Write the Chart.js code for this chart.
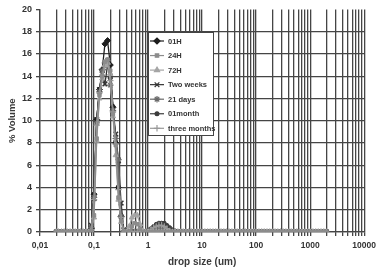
<!DOCTYPE html>
<html><head><meta charset="utf-8">
<script src="https://cdn.jsdelivr.net/npm/chart.js@4.4.1/dist/chart.umd.min.js"></script>
<style>html,body{margin:0;padding:0;background:#fff;overflow:hidden}canvas{display:block}</style>
</head><body>
<canvas id="c" width="381" height="267" style="width:381px;height:267px"></canvas>
<script>
// drop size bins (um)
const sizes = [0.020,0.022,0.025,0.028,0.032,0.036,0.040,0.045,0.050,0.056,
0.063,0.071,0.080,0.089,0.100,0.112,0.126,0.142,0.159,0.178,
0.200,0.224,0.252,0.283,0.317,0.356,0.399,0.448,0.502,0.564,
0.632,0.710,0.796,0.893,1.002,1.125,1.262,1.416,1.589,1.783,
2.000,2.244,2.518,2.825,3.170,3.557,3.991,4.477,5.024,5.637,
6.325,7.096,7.962,8.934,10.024,11.247,12.619,14.159,15.887,17.825,
20.000,22.440,25.179,28.251,31.698,35.566,39.905,44.774,50.238,56.368,
63.246,70.963,79.621,89.337,100.237,112.468,126.191,141.589,158.866,178.250,
200.000,224.404,251.785,282.508,316.979,355.656,399.052,447.744,502.377,563.677,
632.456,709.627,796.214,893.367,1002.374,1124.683,1261.915,1415.892,1588.656,1782.502,
2000.000];

const seriesNames = ['01H','24H','72H','Two weeks','21 days','01month','three months'];

const v01H = [0,0,0,0,0,0,0,0,0,0,0,0,0,
0.3,3.4,10.1,12.8,14.6,16.9,17.2,15.0,11.2,8.0,4.0,1.4,0,0,
0,0,0,0,0,0,0,0,0,0,0,0,0,0,0,0,0,0,0,0,
0,0,0,0,0,0,0,0,0,0,0,0,0,0,0,0,0,0,0,0,0,0,0,0,0,0,0,0,0,0,0,0,0,0,0,0,0,0,0,0,0,0,0,0,0,0,0,0,0,0,0,0,0,0];
const v24H = [0,0,0,0,0,0,0,0,0,0,0,0,0,
0.1,1.5,8.4,12.3,14.0,15.3,15.5,14.5,10.6,7.8,3.1,1.0,0,0,
0,0.5,0.8,0.7,0.3,0,0,0,0,0,0,0,0,0,0,0,0,0,0,0,
0,0,0,0,0,0,0,0,0,0,0,0,0,0,0,0,0,0,0,0,0,0,0,0,0,0,0,0,0,0,0,0,0,0,0,0,0,0,0,0,0,0,0,0,0,0,0,0,0,0,0,0,0,0];
const v72H = [0,0,0,0,0,0,0,0,0,0,0,0,0,
0.1,1.3,8.2,12.0,13.8,15.0,15.2,14.2,10.4,6.9,2.9,0.9,0,0,
0.5,1.3,1.5,1.5,0.7,0.1,0,0,0,0,0,0,0,0,0,0,0,0,0,0,
0,0,0,0,0,0,0,0,0,0,0,0,0,0,0,0,0,0,0,0,0,0,0,0,0,0,0,0,0,0,0,0,0,0,0,0,0,0,0,0,0,0,0,0,0,0,0,0,0,0,0,0,0,0];
const vTwoWeeks = [0,0,0,0,0,0,0,0,0,0,0,0,0,
0.6,3.0,10.1,12.8,14.2,13.3,15.0,14.0,11.1,8.8,6.4,2.6,0.2,0,
0,0,0,0,0,0,0,0,0,0,0,0,0,0,0,0,0,0,0,0,
0,0,0,0,0,0,0,0,0,0,0,0,0,0,0,0,0,0,0,0,0,0,0,0,0,0,0,0,0,0,0,0,0,0,0,0,0,0,0,0,0,0,0,0,0,0,0,0,0,0,0,0,0,0];
const v21Days = [0,0,0,0,0,0,0,0,0,0,0,0,0,
0.4,3.1,9.8,12.6,14.5,15.2,15.4,13.2,10.9,8.4,6.5,1.4,0.1,0,
0,0,0,0,0,0,0,0.1,0.2,0.3,0.4,0.4,0.3,0.2,0.1,0,0,0,0,0,
0,0,0,0,0,0,0,0,0,0,0,0,0,0,0,0,0,0,0,0,0,0,0,0,0,0,0,0,0,0,0,0,0,0,0,0,0,0,0,0,0,0,0,0,0,0,0,0,0,0,0,0,0,0];
const v01Month = [0,0,0,0,0,0,0,0,0,0,0,0,0,
0.3,3.3,10.0,12.7,14.4,15.1,15.3,13.8,11.3,8.1,4.1,1.5,0,0,
0,0,0,0,0,0,0,0.1,0.3,0.5,0.7,0.8,0.8,0.8,0.6,0.4,0.2,0.1,0,0,
0,0,0,0,0,0,0,0,0,0,0,0,0,0,0,0,0,0,0,0,0,0,0,0,0,0,0,0,0,0,0,0,0,0,0,0,0,0,0,0,0,0,0,0,0,0,0,0,0,0,0,0,0,0];
const vThreeMonths = [0,0,0,0,0,0,0,0,0,0,0,0,0,
0.2,2.9,9.6,12.5,14.1,14.9,15.1,13.6,10.8,7.9,3.8,1.3,0,0,
0,0,0,0,0,0,0,0,0.2,0.4,0.5,0.6,0.6,0.5,0.3,0.1,0,0,0,0,
0,0,0,0,0,0,0,0,0,0,0,0,0,0,0,0,0,0,0,0,0,0,0,0,0,0,0,0,0,0,0,0,0,0,0,0,0,0,0,0,0,0,0,0,0,0,0,0,0,0,0,0,0,0];

const seriesValues = [v01H, v24H, v72H, vTwoWeeks, v21Days, v01Month, vThreeMonths];

// x axis: decades and their labels
const decades = [0.01, 0.1, 1, 10, 100, 1000, 10000];
const decadeLabels = ['0,01', '0,1', '1', '10', '100', '1000', '10000'];
const minorSteps = [1,2,3,4,5,6,7,8,9];
const yTickStep = 2;

const styles = [
  {color:'#1e1e1e', pointStyle:'rectRot', radius:3, bw:1, order:4},
  {color:'#8c8c8c', pointStyle:'rect', radius:2.4, bw:1, order:0},
  {color:'#a5a5a5', pointStyle:'triangle', radius:3, bw:1, order:1},
  {color:'#333333', pointStyle:'crossRot', radius:3.3, bw:1.5, order:5},
  {color:'#6a6a6a', pointStyle:'star', radius:3.2, bw:1.2, order:3},
  {color:'#3c3c3c', pointStyle:'circle', radius:1.9, bw:1, order:6},
  {color:'#999999', pointStyle:'cross', radius:3.2, bw:1.2, order:2}
];

const datasets = seriesNames.map((name, i) => ({
  label: name,
  data: sizes.map((s, k) => ({x: s, y: seriesValues[i][k]})),
  order: styles[i].order,
  borderColor: styles[i].color,
  backgroundColor: styles[i].color,
  pointBackgroundColor: styles[i].color,
  pointBorderColor: styles[i].color,
  pointStyle: styles[i].pointStyle,
  pointRadius: styles[i].radius,
  pointBorderWidth: styles[i].bw,
  borderWidth: 1.3,
  tension: 0,
  fill: false
}));

const FONT = "'Liberation Sans', Arial, sans-serif";
const GRID = '#454545';
const GW = 1.3;

function isDecade(v) {
  return decades.findIndex(d => Math.abs(Math.log10(v) - Math.log10(d)) < 1e-6);
}

const legendPlugin = {
  id: 'boxLegend',
  afterDatasetsDraw(chart) {
    const ctx = chart.ctx;
    const L = 148, T = 32, W = 65, H = 103;
    ctx.save();
    ctx.fillStyle = '#fff';
    ctx.fillRect(L, T, W, H);
    ctx.strokeStyle = '#444';
    ctx.lineWidth = 1;
    ctx.strokeRect(L + 0.5, T + 0.5, W, H);
    ctx.font = 'bold 7.5px ' + FONT;
    ctx.textBaseline = 'middle';
    chart.data.datasets.forEach((ds, i) => {
      const y = T + 9 + i * 14.55;
      ctx.strokeStyle = ds.borderColor;
      ctx.lineWidth = 1.2;
      ctx.beginPath();
      ctx.moveTo(L + 2, y); ctx.lineTo(L + 16, y);
      ctx.stroke();
      ctx.fillStyle = ds.backgroundColor;
      Chart.helpers.drawPoint(ctx, {pointStyle: ds.pointStyle, radius: ds.pointRadius, borderWidth: ds.pointBorderWidth, rotation: 0}, L + 9, y);
      ctx.fillStyle = '#333';
      ctx.fillText(ds.label, L + 20, y + 0.5);
    });
    ctx.restore();
  }
};

new Chart(document.getElementById('c'), {
  type: 'line',
  data: { datasets },
  options: {
    responsive: false,
    animation: false,
    devicePixelRatio: 1,
    layout: { padding: { top: 5, right: 15, left: 0, bottom: 0 } },
    plugins: { legend: { display: false }, tooltip: { enabled: false } },
    scales: {
      x: {
        type: 'logarithmic',
        min: 0.01, max: 10000,
        afterBuildTicks: (scale) => {
          const t = [];
          decades.forEach((d, i) => {
            if (i === decades.length - 1) { t.push({value: d}); return; }
            minorSteps.forEach(m => t.push({value: m * d}));
          });
          scale.ticks = t;
        },
        afterFit: (scale) => { scale.height = 35; },
        ticks: {
          autoSkip: false, maxRotation: 0, minRotation: 0, padding: 5,
          color: '#333', font: { family: FONT, size: 8.5, weight: 'bold' },
          callback: (v) => { const i = isDecade(v); return i >= 0 ? decadeLabels[i] : ''; }
        },
        grid: { color: GRID, lineWidth: GW, drawTicks: true, tickLength: 4, tickColor: GRID },
        border: { color: GRID, width: GW },
        title: { display: true, text: 'drop size (um)', color: '#3a3a3a',
          font: { family: FONT, size: 10, weight: 'bold' }, padding: { top: 0, bottom: -1 } }
      },
      y: {
        min: 0, max: 20,
        afterFit: (scale) => { scale.width = 40; },
        ticks: { stepSize: yTickStep, padding: 4, color: '#333',
          font: { family: FONT, size: 9, weight: 'bold' } },
        grid: { color: (c) => (c.tick && c.tick.value === 20) ? 'rgba(0,0,0,0)' : GRID,
          lineWidth: GW, drawTicks: true, tickLength: 4, tickColor: GRID },
        border: { color: GRID, width: GW },
        title: { display: true, text: '% Volume', color: '#3a3a3a',
          font: { family: FONT, size: 9.5, weight: 'bold' }, padding: { top: 7, bottom: 0 } }
      }
    }
  },
  plugins: [legendPlugin]
});
</script>
</body></html>
